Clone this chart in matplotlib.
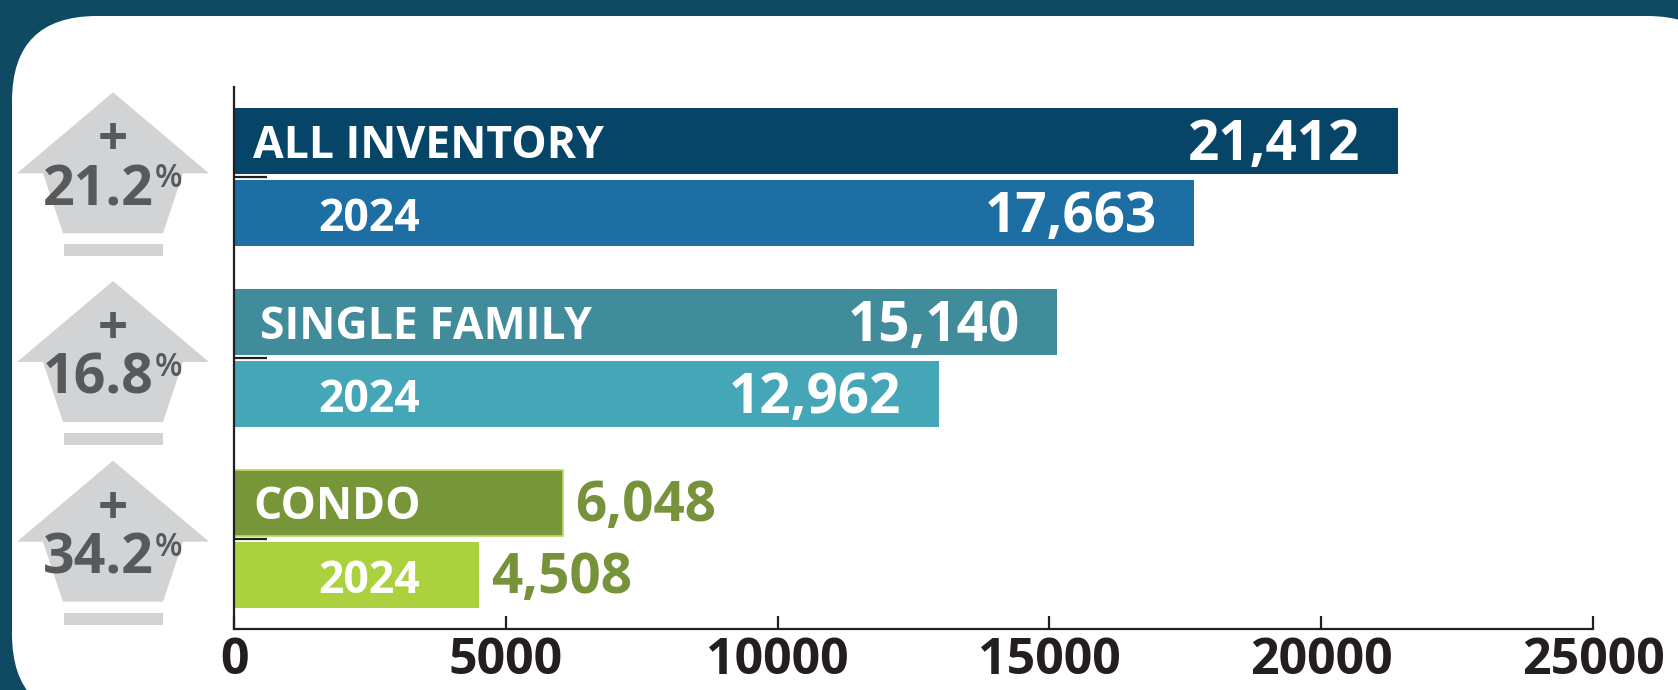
import matplotlib
matplotlib.use("Agg")
import matplotlib.pyplot as plt
from matplotlib.patches import FancyBboxPatch, Polygon, Rectangle

# ---------------- data ----------------
categories = ["ALL INVENTORY", "SINGLE FAMILY", "CONDO"]
current_values = [21412, 15140, 6048]
prior_values = [17663, 12962, 4508]
prior_label = "2024"
pct_change = ["21.2", "16.8", "34.2"]
x_ticks = [0, 5000, 10000, 15000, 20000, 25000]

current_colors = ["#064567", "#418c9b", "#779539"]
prior_colors = ["#1d6ea3", "#45a6b8", "#abd13f"]
outside_color = "#76923b"

# ---------------- figure ----------------
W, H = 1678, 690
DPI = 100
plt.rcParams["font.family"] = ["Open Sans", "DejaVu Sans"]
fig = plt.figure(figsize=(W / DPI, H / DPI), dpi=DPI)
fig.patch.set_facecolor("#0f4a63")

# white rounded card (display pixel coords)
card = FancyBboxPatch((12, -29), 1720, H - 16 + 29,
                      boxstyle="round,pad=0,rounding_size=85",
                      transform=None, facecolor="white", edgecolor="none", zorder=0)
fig.add_artist(card)

def fx(x):
    return x / W

def fy(y):
    return 1 - y / H

ax = fig.add_axes([fx(234), fy(629), fx(1593) - fx(234), fy(87) - fy(629)])
ax.set_facecolor("none")

ypos = list(range(len(categories)))
bh = 0.365
off = 0.199
axis_col = "#231f20"

ax.barh([y - off for y in ypos], current_values, height=bh, color=current_colors,
        edgecolor=["none", "none", "#b9d95f"], linewidth=1.2, zorder=2)
ax.barh([y + off for y in ypos], prior_values, height=bh, color=prior_colors,
        edgecolor="none", zorder=2)

ax.set_xlim(0, 25000)
ax.set_ylim(len(categories) - 0.5, -0.5)

for s in ["top", "right"]:
    ax.spines[s].set_visible(False)
for s in ["left", "bottom"]:
    ax.spines[s].set_color(axis_col)
    ax.spines[s].set_linewidth(1.6)
    ax.spines[s].set_zorder(3)

ax.set_yticks(ypos)
ax.set_yticklabels([])
ax.tick_params(axis="y", direction="in", length=24, width=1.6, color=axis_col)
ax.set_xticks(x_ticks)
ax.set_xticklabels([str(t) for t in x_ticks], fontsize=36, fontweight="bold",
                   color=axis_col)
ax.tick_params(axis="x", direction="in", length=9.5, width=1.6, color=axis_col, pad=5)

# labels inside bars
label_dx = [14, 19, 14]
for i, y in enumerate(ypos):
    ax.annotate(categories[i], xy=(0, y - off), xytext=(label_dx[i], -12), textcoords="offset points",
                ha="left", va="baseline", fontsize=32, fontweight="bold", color="white", zorder=4)
    ax.annotate(prior_label, xy=(0, y + off), xytext=(61, -13), textcoords="offset points",
                ha="left", va="baseline", fontsize=32, fontweight="bold", color="white", zorder=4)
    for v, yy in ((current_values[i], y - off), (prior_values[i], y + off)):
        txt = f"{v:,}"
        if v > 10000:
            ax.annotate(txt, xy=(v, yy), xytext=(-27, -13.5), textcoords="offset points",
                        ha="right", va="baseline", fontsize=39.5, fontweight="bold",
                        color="white", zorder=4)
        else:
            ax.annotate(txt, xy=(v, yy), xytext=(9, -13.5), textcoords="offset points",
                        ha="left", va="baseline", fontsize=39.5, fontweight="bold",
                        color=outside_color, zorder=4)

# ---------------- change arrows ----------------
grey = "#d1d3d4"
text_grey = "#58595b"
arrow_shift = [-85, -77, -78]  # tip offset from group center (px)
for i, y in enumerate(ypos):
    yc = H - ax.transData.transform((0, y))[1]
    tip = yc + arrow_shift[i]
    pts = [(113, tip), (209, tip + 81), (183, tip + 81), (163, tip + 141),
           (63, tip + 141), (43, tip + 81), (17, tip + 81)]
    fig.add_artist(Polygon([(fx(px), fy(py)) for px, py in pts], closed=True,
                           transform=fig.transFigure, facecolor=grey, edgecolor="none"))
    fig.add_artist(Rectangle((fx(64), fy(tip + 164)), fx(163) - fx(64), fy(tip + 152) - fy(tip + 164),
                             transform=fig.transFigure, facecolor=grey, edgecolor="none"))
    fig.text(fx(113), fy(tip + 49), "+", ha="center", va="center", fontsize=38,
             fontweight="bold", color=text_grey)
    fig.text(fx(154), fy(tip + 113), pct_change[i], ha="right", va="baseline", fontsize=40,
             fontweight="bold", color=text_grey)
    fig.text(fx(155), fy(tip + 95), "%", ha="left", va="baseline", fontsize=23,
             fontweight="semibold", color=text_grey)

fig.savefig("out.png", dpi=DPI, facecolor=fig.get_facecolor())
